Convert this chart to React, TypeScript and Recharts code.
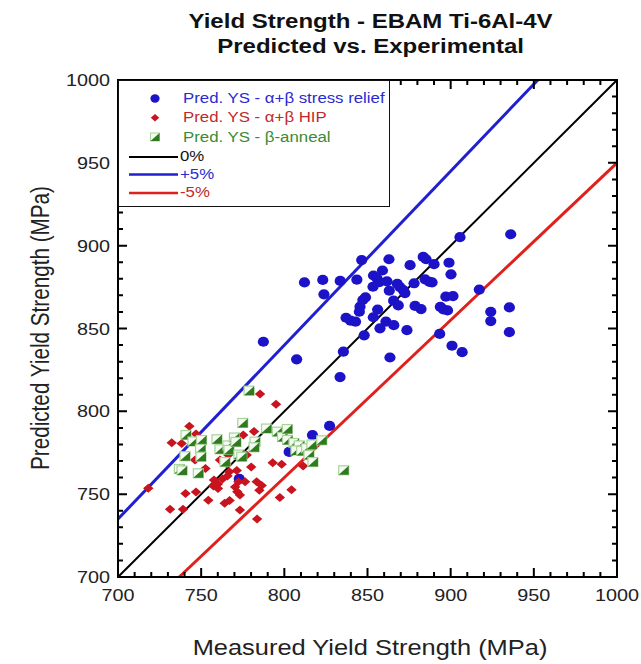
import React from 'react';
import { ScatterChart, Scatter, XAxis, YAxis, ReferenceLine } from 'recharts';

const FONT = '"Liberation Sans", Arial, Helvetica, sans-serif';
const SX = 1.2; // horizontal stretch of the lettering in the reference

// Pred. YS - α+β stress relief (measured, predicted) MPa
const stressRelief = [
  { x: 905.6, y: 905.1 }, { x: 936.1, y: 906.9 }, { x: 846.5, y: 891.3 }, { x: 862.9, y: 891.8 },
  { x: 883.5, y: 893.2 }, { x: 885.2, y: 891.8 }, { x: 875.6, y: 888.2 }, { x: 890.0, y: 888.8 },
  { x: 899.0, y: 889.7 }, { x: 859.0, y: 885.0 }, { x: 900.2, y: 882.7 }, { x: 812.1, y: 877.8 },
  { x: 823.1, y: 879.3 }, { x: 833.6, y: 878.7 }, { x: 843.6, y: 879.5 }, { x: 853.6, y: 882.0 },
  { x: 855.7, y: 880.3 }, { x: 857.1, y: 878.0 }, { x: 861.7, y: 878.5 }, { x: 853.3, y: 875.2 },
  { x: 867.9, y: 877.0 }, { x: 869.5, y: 875.0 }, { x: 871.5, y: 873.2 }, { x: 863.1, y: 872.8 },
  { x: 872.5, y: 871.4 }, { x: 878.0, y: 877.3 }, { x: 884.6, y: 879.7 }, { x: 887.3, y: 878.1 },
  { x: 888.8, y: 877.8 }, { x: 823.8, y: 870.6 }, { x: 848.8, y: 868.8 }, { x: 847.2, y: 867.2 },
  { x: 897.1, y: 869.2 }, { x: 901.4, y: 869.6 }, { x: 917.2, y: 873.5 }, { x: 865.7, y: 866.8 },
  { x: 868.5, y: 863.9 }, { x: 845.5, y: 863.2 }, { x: 845.1, y: 860.1 }, { x: 856.1, y: 861.4 },
  { x: 878.6, y: 863.6 }, { x: 882.2, y: 861.7 }, { x: 893.8, y: 863.0 }, { x: 895.6, y: 861.6 },
  { x: 898.1, y: 860.9 }, { x: 924.1, y: 860.1 }, { x: 924.1, y: 854.5 }, { x: 935.3, y: 862.7 },
  { x: 837.1, y: 856.5 }, { x: 839.8, y: 854.7 }, { x: 842.8, y: 854.1 }, { x: 853.5, y: 856.8 },
  { x: 861.1, y: 854.2 }, { x: 865.8, y: 852.0 }, { x: 857.5, y: 850.1 }, { x: 873.7, y: 849.0 },
  { x: 893.4, y: 846.7 }, { x: 935.3, y: 847.8 }, { x: 848.0, y: 845.9 }, { x: 900.8, y: 839.6 },
  { x: 906.9, y: 835.7 }, { x: 835.5, y: 836.0 }, { x: 863.5, y: 832.5 }, { x: 833.5, y: 820.7 },
  { x: 827.2, y: 791.2 }, { x: 816.9, y: 785.7 }, { x: 802.9, y: 775.5 }, { x: 772.9, y: 759.2 },
  { x: 787.4, y: 842.0 }, { x: 807.4, y: 831.4 },
];

// Pred. YS - α+β HIP
const hip = [
  { x: 718.2, y: 753.6 }, { x: 732.3, y: 781.1 }, { x: 738.3, y: 780.6 }, { x: 742.9, y: 791.0 },
  { x: 746.9, y: 786.3 }, { x: 746.3, y: 770.6 }, { x: 752.6, y: 765.5 }, { x: 731.3, y: 740.9 },
  { x: 739.1, y: 740.9 }, { x: 740.6, y: 750.4 }, { x: 746.9, y: 751.3 }, { x: 754.3, y: 746.3 },
  { x: 757.7, y: 758.6 }, { x: 760.1, y: 756.1 }, { x: 757.4, y: 754.9 }, { x: 760.1, y: 753.4 },
  { x: 762.8, y: 759.2 }, { x: 761.3, y: 770.6 }, { x: 766.3, y: 773.6 }, { x: 765.5, y: 768.2 },
  { x: 766.9, y: 763.6 }, { x: 764.1, y: 744.5 }, { x: 767.1, y: 746.2 }, { x: 765.8, y: 761.0 },
  { x: 771.4, y: 764.3 }, { x: 772.4, y: 757.5 }, { x: 770.4, y: 754.3 }, { x: 771.7, y: 751.5 },
  { x: 773.3, y: 749.5 }, { x: 775.3, y: 785.7 }, { x: 773.3, y: 740.5 }, { x: 781.8, y: 787.9 },
  { x: 777.4, y: 773.6 }, { x: 780.1, y: 766.4 }, { x: 776.4, y: 757.5 }, { x: 783.4, y: 757.5 },
  { x: 785.0, y: 752.3 }, { x: 786.4, y: 755.2 }, { x: 785.4, y: 810.5 }, { x: 795.0, y: 804.3 },
  { x: 793.0, y: 769.0 }, { x: 798.4, y: 768.1 }, { x: 797.3, y: 748.0 }, { x: 804.3, y: 752.7 },
  { x: 811.3, y: 767.0 }, { x: 783.6, y: 735.0 },
];

// Pred. YS - β-anneal
const betaAnneal = [
  { x: 778.8, y: 812.5 }, { x: 775.0, y: 793.0 }, { x: 740.9, y: 785.7 }, { x: 745.1, y: 781.8 },
  { x: 750.2, y: 782.7 }, { x: 749.6, y: 777.3 }, { x: 749.9, y: 772.6 }, { x: 740.3, y: 772.9 },
  { x: 736.9, y: 765.2 }, { x: 738.5, y: 764.3 }, { x: 748.3, y: 762.6 }, { x: 759.5, y: 783.1 },
  { x: 761.3, y: 777.1 }, { x: 766.1, y: 779.4 }, { x: 766.7, y: 776.7 }, { x: 770.0, y: 784.2 },
  { x: 764.3, y: 769.4 }, { x: 770.9, y: 781.5 }, { x: 772.7, y: 773.9 }, { x: 774.4, y: 772.6 },
  { x: 782.4, y: 781.7 }, { x: 781.8, y: 778.3 }, { x: 789.3, y: 789.6 }, { x: 795.8, y: 787.7 },
  { x: 798.9, y: 784.5 }, { x: 801.8, y: 789.3 }, { x: 801.9, y: 782.7 }, { x: 805.8, y: 780.9 },
  { x: 809.0, y: 779.4 }, { x: 807.0, y: 776.4 }, { x: 810.4, y: 776.1 }, { x: 813.4, y: 777.7 },
  { x: 816.6, y: 780.0 }, { x: 822.5, y: 782.5 }, { x: 814.8, y: 773.6 }, { x: 817.2, y: 769.4 },
  { x: 835.7, y: 764.4 },
];

// Reference lines (0%, +5%, -5%) end points
const zeroLine = [{ x: 700, y: 700 }, { x: 1000, y: 1000 }];
const plusLine = [{ x: 700, y: 735 }, { x: 952.4, y: 1000 }];
const minusLine = [{ x: 736.8, y: 700 }, { x: 1000, y: 950 }];

const majorTicks = [700, 750, 800, 850, 900, 950, 1000];
const innerMajorTicks = [750, 800, 850, 900, 950];
const minorTicks = [
  710, 720, 730, 740, 760, 770, 780, 790, 810, 820, 830, 840,
  860, 870, 880, 890, 910, 920, 930, 940, 960, 970, 980, 990,
];
const DOMAIN: [number, number] = [700, 1000];

// layout
const CHART_W = 641;
const CHART_H = 664;
const MARGIN = { top: 80, right: 24, bottom: 57, left: 0 };
const X_AXIS_H = 30;
const Y_AXIS_W = 118;
const PLOT_L = MARGIN.left + Y_AXIS_W;
const PLOT_T = MARGIN.top;
const PLOT_R = CHART_W - MARGIN.right;
const PLOT_B = CHART_H - MARGIN.bottom - X_AXIS_H;
const MAJOR_LEN = 9;
const MINOR_LEN = 5;
// linear axis maps (same as the chart's axes) for the inward frame tick marks
const px = (v: number) => PLOT_L + ((v - DOMAIN[0]) / (DOMAIN[1] - DOMAIN[0])) * (PLOT_R - PLOT_L);
const py = (v: number) => PLOT_B - ((v - DOMAIN[0]) / (DOMAIN[1] - DOMAIN[0])) * (PLOT_B - PLOT_T);

const BLUE = '#1c12c8';
const RED = '#c8141e';
const GREEN_DARK = '#2f7a1f';
const GREEN_LIGHT = '#a8d49a';
const BLUE_LINE = '#2020d0';
const RED_LINE = '#e0201c';

const renderBottomLabel = (p: any) => (
  <text
    key={`b-${p.payload.value}`}
    transform={`translate(${p.x},${Number(p.y) + 24}) scale(${SX},1)`}
    textAnchor="middle"
    fontSize={16.5}
    fill="#222"
    fontFamily={FONT}
  >
    {p.payload.value}
  </text>
);

const renderLeftLabel = (p: any) => (
  <text
    key={`l-${p.payload.value}`}
    transform={`translate(${Number(p.x) - 8},${Number(p.y) + 6}) scale(${SX},1)`}
    textAnchor="end"
    fontSize={16.5}
    fill="#222"
    fontFamily={FONT}
  >
    {p.payload.value}
  </text>
);

const Circle = (p: any) => <ellipse cx={p.cx} cy={p.cy} rx={5.6} ry={5.1} fill={BLUE} />;
const Diamond = (p: any) => {
  const { cx, cy } = p;
  const sx = 5.2;
  const sy = 4.5;
  return <polygon points={`${cx},${cy - sy} ${cx + sx},${cy} ${cx},${cy + sy} ${cx - sx},${cy}`} fill={RED} />;
};
const HalfSquare = (p: any) => {
  const { cx, cy } = p;
  const hx = 5;
  const hy = 4.5;
  return (
    <g>
      <rect x={cx - hx} y={cy - hy} width={2 * hx} height={2 * hy} fill="#f4fbf2" stroke={GREEN_LIGHT} strokeWidth={1.2} />
      <polygon points={`${cx + hx},${cy - hy} ${cx + hx},${cy + hy} ${cx - hx},${cy + hy}`} fill={GREEN_DARK} />
    </g>
  );
};

function FrameTicks() {
  const segs: string[] = [];
  const add = (vals: number[], len: number) => {
    vals.forEach((v) => {
      const x = px(v);
      const y = py(v);
      segs.push(`M${x},${PLOT_B}L${x},${PLOT_B - len}`);
      segs.push(`M${x},${PLOT_T}L${x},${PLOT_T + len}`);
      segs.push(`M${PLOT_L},${y}L${PLOT_L + len},${y}`);
      segs.push(`M${PLOT_R},${y}L${PLOT_R - len},${y}`);
    });
  };
  add(innerMajorTicks, MAJOR_LEN);
  add(minorTicks, MINOR_LEN);
  return (
    <svg style={{ position: 'absolute', left: 0, top: 0, pointerEvents: 'none' }} width={CHART_W} height={CHART_H}>
      <rect x={PLOT_L} y={PLOT_T} width={PLOT_R - PLOT_L} height={PLOT_B - PLOT_T} fill="none" stroke="#000" strokeWidth={2} />
      <path d={segs.join('')} stroke="#000" strokeWidth={2} fill="none" />
    </svg>
  );
}

const stretched = (origin: string): React.CSSProperties => ({
  transform: `scaleX(${SX})`,
  transformOrigin: origin,
});

const legendText: React.CSSProperties = {
  position: 'absolute',
  fontFamily: FONT,
  fontSize: 14,
  lineHeight: '17px',
  whiteSpace: 'nowrap',
  ...stretched('left center'),
};

export default function App() {
  return (
    <div style={{ position: 'absolute', left: 0, top: 0, width: CHART_W, height: CHART_H, background: '#fff', fontFamily: FONT }}>
      <div
        style={{
          position: 'absolute',
          left: 0,
          top: 9,
          width: 741,
          textAlign: 'center',
          fontWeight: 'bold',
          fontSize: 20,
          lineHeight: '24.5px',
          color: '#111',
          ...stretched('370px 0'),
        }}
      >
        Yield Strength - EBAM Ti-6Al-4V
        <br />
        Predicted vs. Experimental
      </div>
      <ScatterChart width={CHART_W} height={CHART_H} margin={MARGIN}>
        <XAxis
          xAxisId="b"
          type="number"
          dataKey="x"
          domain={DOMAIN}
          ticks={majorTicks}
          interval={0}
          orientation="bottom"
          height={X_AXIS_H}
          tickSize={0}
          tickMargin={0}
          tickLine={false}
          axisLine={{ stroke: '#000', strokeWidth: 2 }}
          tick={renderBottomLabel}
        />
        <YAxis
          yAxisId="l"
          type="number"
          dataKey="y"
          domain={DOMAIN}
          ticks={majorTicks}
          interval={0}
          orientation="left"
          width={Y_AXIS_W}
          tickSize={0}
          tickMargin={0}
          tickLine={false}
          axisLine={{ stroke: '#000', strokeWidth: 2 }}
          tick={renderLeftLabel}
        />
        <ReferenceLine xAxisId="b" yAxisId="l" segment={zeroLine} stroke="#000" strokeWidth={2} ifOverflow="visible" />
        <ReferenceLine xAxisId="b" yAxisId="l" segment={plusLine} stroke={BLUE_LINE} strokeWidth={3} ifOverflow="visible" />
        <ReferenceLine xAxisId="b" yAxisId="l" segment={minusLine} stroke={RED_LINE} strokeWidth={3} ifOverflow="visible" />
        <Scatter xAxisId="b" yAxisId="l" data={stressRelief} shape={<Circle />} isAnimationActive={false} />
        <Scatter xAxisId="b" yAxisId="l" data={hip} shape={<Diamond />} isAnimationActive={false} />
        <Scatter xAxisId="b" yAxisId="l" data={betaAnneal} shape={<HalfSquare />} isAnimationActive={false} />
      </ScatterChart>

      <FrameTicks />

      {/* Legend */}
      <div style={{ position: 'absolute', left: 118, top: 80, width: 272, height: 127, boxSizing: 'border-box', border: '1.5px solid #111', background: '#fff' }} />
      <svg style={{ position: 'absolute', left: 0, top: 0 }} width={641} height={220}>
        <ellipse cx={155} cy={98.5} rx={4.6} ry={4.2} fill={BLUE} />
        <polygon points="155,114 159.2,117.7 155,121.4 150.8,117.7" fill={RED} />
        <g>
          <rect x={150.5} y={133} width={9} height={8} fill="#f4fbf2" stroke={GREEN_LIGHT} strokeWidth={1} />
          <polygon points="159.5,133 159.5,141 150.5,141" fill={GREEN_DARK} />
        </g>
        <line x1={129} y1={157} x2={178} y2={157} stroke="#000" strokeWidth={2} />
        <line x1={129} y1={174.5} x2={178} y2={174.5} stroke={BLUE_LINE} strokeWidth={2.5} />
        <line x1={129} y1={193} x2={178} y2={193} stroke={RED_LINE} strokeWidth={2.5} />
      </svg>
      <div style={{ ...legendText, left: 183, top: 89.5, color: '#2a2ad2' }}>Pred. YS - α+β stress relief</div>
      <div style={{ ...legendText, left: 183, top: 109, color: '#c02a2a' }}>Pred. YS - α+β HIP</div>
      <div style={{ ...legendText, left: 183, top: 128.5, color: '#3a8a34' }}>Pred. YS - β-anneal</div>
      <div style={{ ...legendText, left: 180, top: 148, color: '#111' }}>0%</div>
      <div style={{ ...legendText, left: 180, top: 166, color: '#2a2ad2' }}>+5%</div>
      <div style={{ ...legendText, left: 180, top: 184, color: '#c02a2a' }}>-5%</div>

      {/* Axis titles */}
      <div
        style={{
          position: 'absolute',
          left: 120,
          top: 636,
          width: 500,
          textAlign: 'center',
          fontSize: 21.2,
          lineHeight: '24px',
          color: '#222',
          ...stretched('250px 12px'),
        }}
      >
        Measured Yield Strength (MPa)
      </div>
      <div
        style={{
          position: 'absolute',
          left: 41 - 200,
          top: 328 - 12,
          width: 400,
          textAlign: 'center',
          fontSize: 20.7,
          lineHeight: '24px',
          color: '#222',
          transform: `rotate(-90deg) scaleY(${SX})`,
          transformOrigin: '200px 12px',
        }}
      >
        Predicted Yield Strength (MPa)
      </div>
    </div>
  );
}
